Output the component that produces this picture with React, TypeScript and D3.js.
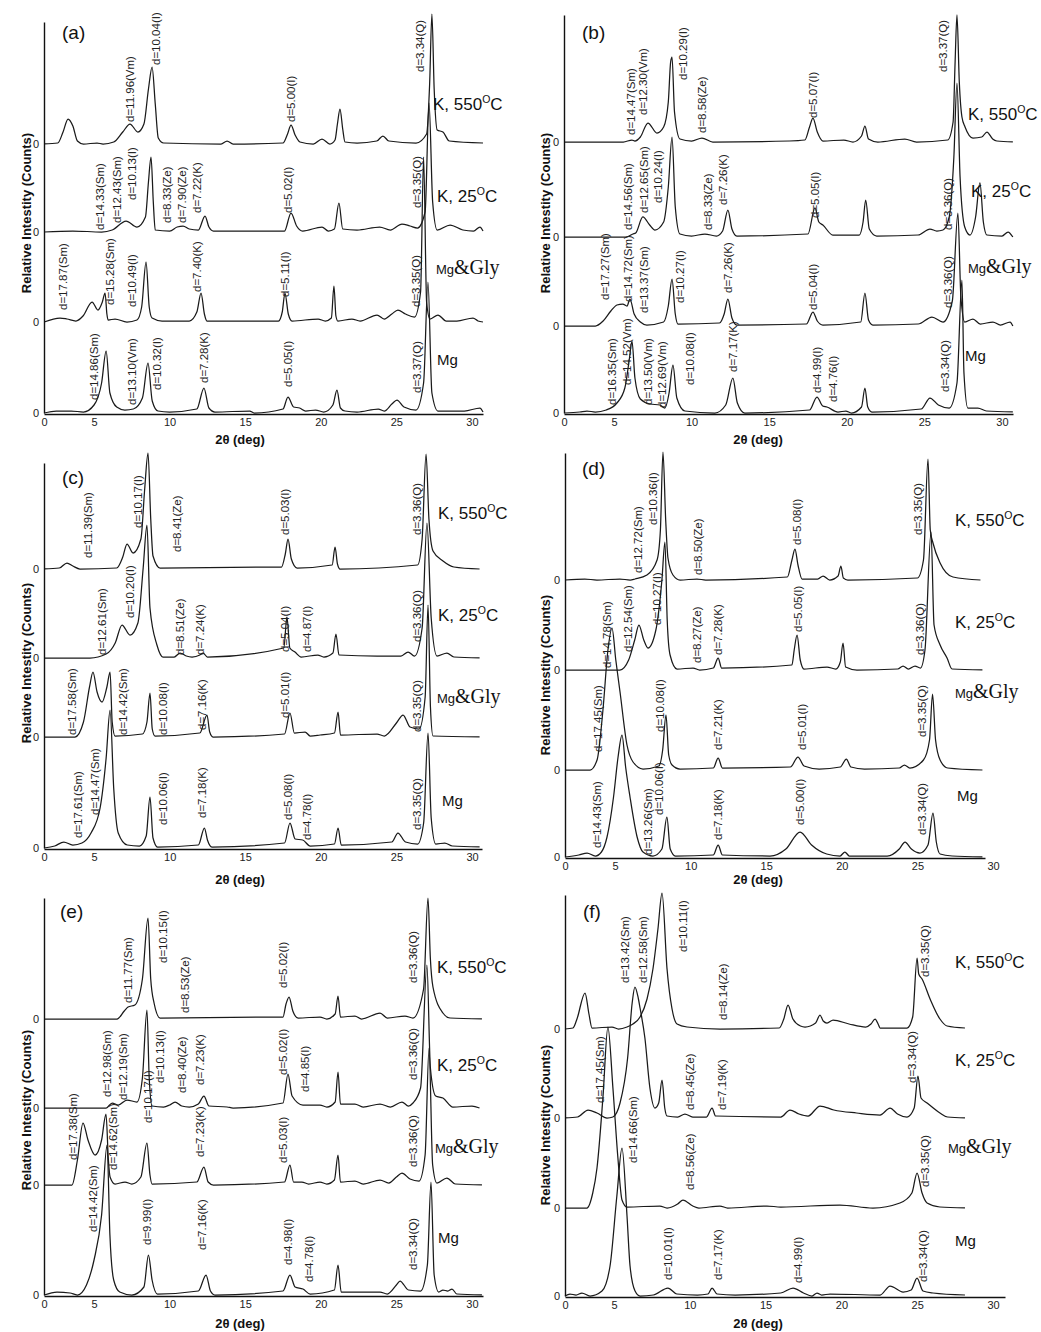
import React, { useEffect, useRef } from "react";
import * as d3 from "d3";

type Pt = [number, number];
type Lbl = [string, number, number];

const FONT = "'Liberation Sans', Arial, Helvetica, sans-serif";
const SERIF = "'Liberation Serif', 'Times New Roman', serif";

// stacking order, bottom to top
const traceNames = ["Mg", "Mg&Gly", "K, 25°C", "K, 550°C"];
const xTickValues = [5, 10, 15, 20, 25, 30];
const panelLetters = ["(a)", "(b)", "(c)", "(d)", "(e)", "(f)"];
const yTitle = "Relative Intestity (Counts)";
const xTitle = "2θ (deg)";

// ---------- (a) ----------
const aXDomain = [1.69, 30.73];
const aOffsets = [0, 91, 181, 269];
const aMg: Pt[] = [[1.7,0],[2.5,2],[3.5,2],[4.3,1],[5.0,8],[5.5,30],[5.8,62],[6.05,20],[6.5,6],[7.04,3],[7.6,4],[8.2,15],[8.57,50],[8.85,12],[9.23,2],[10.0,1],[11.8,4],[12.27,25],[12.6,5],[13.0,1],[15.3,2],[15.6,0],[17.5,4],[17.83,16],[18.2,6],[18.6,5],[19.0,2],[19.65,3],[20.2,1],[20.8,8],[21.07,23],[21.3,5],[21.6,2],[22.4,1],[23.8,4],[24.2,2],[24.7,9],[25.04,13],[25.5,6],[26.3,3],[26.8,30],[27.09,131],[27.35,20],[27.75,2],[29.5,2],[30.53,5],[30.73,1]];
const aMgGly: Pt[] = [[1.7,0],[2.75,4],[3.21,3],[3.8,1],[4.27,6],[4.87,20],[5.26,12],[5.55,20],[5.73,29],[5.85,8],[5.93,2],[6.39,3],[7.18,0],[7.84,2],[8.15,15],[8.44,60],[8.65,15],[8.84,4],[9.5,1],[11.3,1],[11.8,10],[12.08,29],[12.3,8],[12.47,1],[14.66,1],[17.2,1],[17.45,10],[17.63,29],[17.85,8],[18.1,1],[19.82,3],[20.3,1],[20.7,4],[20.87,36],[21.0,6],[21.13,1],[22.06,3],[22.6,1],[23.72,7],[24.2,3],[24.7,8],[25.1,12],[25.6,8],[26.2,5],[26.6,30],[26.8,165],[27.0,20],[27.22,3],[27.75,7],[28.3,1],[29.0,1],[30.07,4],[30.4,1],[30.73,0]];
const aK25: Pt[] = [[1.7,0],[3.6,1],[5.5,0],[6.2,2],[7.12,11],[7.84,5],[8.4,15],[8.6,50],[8.77,75],[8.92,30],[9.05,2],[10.0,1],[10.5,5],[10.89,6],[11.3,3],[11.9,2],[12.34,16],[12.6,5],[12.9,1],[17.6,1],[18.03,19],[18.4,6],[18.8,1],[20.08,5],[20.5,1],[20.9,3],[21.2,29],[21.45,3],[22.4,2],[23.9,5],[24.6,2],[25.37,8],[25.9,6],[26.4,4],[26.9,20],[27.16,129],[27.4,30],[27.7,2],[28.55,7],[29.4,2],[30.1,1],[30.53,5],[30.73,1]];
const aK550: Pt[] = [[1.7,0],[2.6,1],[2.95,12],[3.28,25],[3.6,18],[3.9,3],[4.3,0],[5.2,1],[5.6,0],[6.3,2],[6.9,12],[7.38,20],[7.9,12],[8.3,20],[8.6,55],[8.84,77],[9.05,40],[9.25,6],[9.6,1],[13.4,0],[13.8,3],[14.2,0],[17.5,1],[17.8,10],[18.03,19],[18.3,9],[18.62,2],[19.5,0],[20.08,5],[20.6,0],[20.94,4],[21.1,20],[21.27,35],[21.45,15],[21.6,2],[22.4,1],[23.7,3],[24.11,8],[24.5,3],[26.3,1],[27.0,10],[27.2,60],[27.35,130],[27.5,55],[27.7,14],[28.08,12],[28.5,3],[30.73,1]];
const aLabels: Lbl[] = [
  ["d=11.96(Vm)",7.38,291],["d=10.04(I)",9.1,348],["d=5.00(I)",18.03,291],["d=3.34(Q)",26.56,341],
  ["d=14.33(Sm)",5.4,183],["d=12.43(Sm)",6.52,190],["d=10.13(I)",7.51,213],["d=8.33(Ze)",9.83,190],["d=7.90(Ze)",10.82,190],["d=7.22(K)",11.81,200],["d=5.02(I)",17.83,200],["d=3.35(Q)",26.36,205],
  ["d=17.87(Sm)",2.95,103],["d=15.28(Sm)",6.06,108],["d=10.49(I)",7.51,106],["d=7.40(K)",11.81,121],["d=5.11(I)",17.63,116],["d=3.35(Q)",26.3,106],
  ["d=14.86(Sm)",5.0,13],["d=13.10(Vm)",7.51,8],["d=10.32(I)",9.17,23],["d=7.28(K)",12.27,30],["d=5.05(I)",17.83,26],["d=3.37(Q)",26.36,20],
];

// ---------- (b) ----------
const bXDomain = [1.78, 30.71];
const bOffsets = [0, 87, 176, 271];
const bMg: Pt[] = [[1.8,0],[2.8,1],[3.26,2],[3.8,1],[4.5,3],[5.19,10],[5.7,25],[6.0,55],[6.16,72],[6.35,35],[6.7,14],[7.32,9],[7.96,8],[8.28,5],[8.55,20],[8.8,48],[9.05,15],[9.57,2],[11.5,0],[12.2,8],[12.66,35],[12.95,10],[13.43,0],[17.6,3],[18.08,16],[18.45,7],[18.72,6],[19.43,1],[19.94,2],[20.3,0],[20.95,6],[21.17,25],[21.35,6],[21.62,1],[24.8,4],[25.36,15],[25.9,8],[26.6,5],[27.1,30],[27.42,133],[27.55,40],[27.8,5],[28.45,5],[29.0,2],[30.7,1]];
const bMgGly: Pt[] = [[1.8,0],[3.8,0],[4.3,5],[4.8,15],[5.19,21],[5.57,22],[5.84,20],[6.03,27],[6.3,12],[6.7,4],[7.12,1],[8.2,4],[8.5,20],[8.74,47],[8.95,12],[9.12,2],[11.8,3],[12.1,12],[12.34,27],[12.6,8],[12.92,1],[17.4,2],[17.82,14],[18.1,5],[18.46,1],[20.9,4],[21.17,33],[21.4,6],[21.68,1],[24.6,2],[25.49,9],[26.2,4],[26.8,25],[27.16,113],[27.35,30],[27.6,4],[28.13,7],[28.6,2],[29.42,4],[29.9,1],[30.52,4],[30.7,0]];
const bK25: Pt[] = [[1.8,0],[5.8,0],[6.22,3],[6.4,4],[6.86,20],[7.3,12],[7.64,7],[8.2,15],[8.5,50],[8.74,100],[8.95,30],[9.25,3],[10.0,1],[10.86,3],[11.6,1],[12.0,6],[12.34,27],[12.6,8],[12.92,1],[17.5,3],[17.95,29],[18.2,15],[18.46,12],[19.1,2],[20.8,2],[21.05,15],[21.22,37],[21.45,8],[21.93,1],[24.6,2],[25.36,8],[25.8,6],[26.2,7],[26.6,20],[26.9,80],[27.1,154],[27.3,60],[27.6,10],[27.94,2],[28.3,20],[28.58,54],[28.8,15],[29.03,2],[30.0,1],[30.39,5],[30.7,0]];
const bK550: Pt[] = [[1.8,0],[5.6,0],[6.16,2],[6.35,1],[6.7,5],[7.19,19],[7.77,9],[8.2,15],[8.5,40],[8.65,80],[8.74,85],[8.9,30],[9.25,3],[10.0,1],[10.67,4],[11.37,0],[16.3,1],[17.3,2],[17.6,15],[17.82,24],[18.1,10],[18.46,1],[19.81,2],[20.4,0],[20.95,6],[21.17,16],[21.4,3],[22.0,0],[23.74,3],[24.5,0],[26.5,2],[26.85,20],[26.98,80],[27.1,127],[27.25,60],[27.42,25],[27.62,15],[28.13,4],[28.7,5],[29.03,10],[29.4,3],[29.67,1],[30.7,0]];
const bLabels: Lbl[] = [
  ["d=14.47(Sm)",6.1,278],["d=12.30(Vm)",6.86,298],["d=10.29(I)",9.44,333],["d=8.58(Ze)",10.67,280],["d=5.07(I)",17.82,295],["d=3.37(Q)",26.2,341],
  ["d=14.56(Sm)",5.9,183],["d=12.65(Sm)",6.93,200],["d=10.24(I)",7.83,210],["d=8.33(Ze)",11.05,183],["d=7.26(K)",12.02,208],["d=5.05(I)",17.95,195],["d=3.36(Q)",26.52,183],
  ["d=17.27(Sm)",4.42,113],["d=14.72(Sm)",5.9,111],["d=13.37(Sm)",6.93,100],["d=10.27(I)",9.25,110],["d=7.26(K)",12.34,120],["d=5.04(I)",17.82,103],["d=3.36(Q)",26.52,105],
  ["d=16.35(Sm)",4.87,8],["d=14.52(Vm)",5.84,28],["d=13.50(Vm)",7.19,8],["d=12.69(Vm)",8.09,5],["d=10.08(I)",9.9,28],["d=7.17(K)",12.66,41],["d=4.99(I)",18.08,20],["d=4.76(I)",19.11,11],["d=3.34(Q)",26.32,21],
];

// ---------- (c) ----------
const cXDomain = [1.69, 30.66];
const cOffsets = [0, 111, 190, 279];
const cMg: Pt[] = [[1.7,0],[2.4,2],[3.0,6],[3.6,3],[4.2,5],[4.8,15],[5.4,40],[5.8,90],[6.06,138],[6.3,60],[6.6,15],[7.2,3],[8.0,2],[8.45,12],[8.7,51],[8.9,10],[9.2,1],[11.9,3],[12.3,20],[12.5,8],[12.8,1],[17.6,5],[17.96,25],[18.3,9],[18.8,8],[19.3,2],[20.9,4],[21.14,20],[21.35,3],[24.7,6],[25.1,15],[25.6,6],[26.4,4],[26.8,25],[27.09,115],[27.3,30],[27.6,4],[28.2,5],[28.7,2],[30.5,1]];
const cMgGly: Pt[] = [[1.7,0],[3.74,0],[4.3,15],[4.7,50],[4.93,65],[5.2,45],[5.53,35],[5.85,50],[6.06,65],[6.2,15],[6.39,1],[8.2,3],[8.5,15],[8.7,44],[8.85,8],[9.03,1],[12.0,4],[12.47,22],[12.65,5],[12.87,0],[17.6,3],[17.96,24],[18.25,4],[18.96,5],[19.3,1],[19.95,2],[20.9,4],[21.14,25],[21.3,2],[23.72,3],[24.2,1],[25.0,14],[25.44,22],[25.9,10],[26.5,8],[26.9,40],[27.09,132],[27.25,30],[27.42,1],[30.5,0]];
const cK25: Pt[] = [[1.7,0],[4.73,0],[5.8,4],[6.4,15],[6.85,33],[7.38,23],[7.9,35],[8.25,90],[8.5,133],[8.7,50],[9.16,13],[9.56,1],[10.3,1],[10.69,5],[11.1,2],[11.48,1],[12.0,3],[12.21,5],[12.5,1],[17.55,10],[17.76,41],[17.95,10],[18.29,6],[18.7,1],[19.8,3],[20.2,1],[20.8,5],[21.0,24],[21.2,3],[23.72,2],[25.3,2],[25.77,6],[26.2,2],[26.7,30],[27.02,135],[27.3,40],[27.68,2],[28.34,5],[28.8,1],[30.5,0]];
const cK550: Pt[] = [[1.7,0],[2.7,1],[3.21,6],[3.6,3],[4.07,0],[6.5,1],[6.9,12],[7.18,25],[7.58,16],[8.1,30],[8.35,80],[8.57,116],[8.75,50],[8.9,13],[9.37,1],[17.4,2],[17.65,15],[17.83,30],[18.05,10],[18.43,1],[20.75,4],[20.94,22],[21.1,5],[21.27,0],[26.4,4],[26.7,30],[26.96,115],[27.15,50],[27.42,18],[28.08,8],[28.8,2],[30.5,0]];
const cLabels: Lbl[] = [
  ["d=11.39(Sm)",4.6,290],["d=10.17(I)",7.91,320],["d=8.41(Ze)",10.49,296],["d=5.03(I)",17.63,313],["d=3.36(Q)",26.36,313],
  ["d=12.61(Sm)",5.53,193],["d=10.20(I)",7.38,230],["d=8.51(Ze)",10.69,193],["d=7.24(K)",12.01,193],["d=5.04(I)",17.63,196],["d=4.87(I)",19.09,196],["d=3.36(Q)",26.36,206],
  ["d=17.58(Sm)",3.54,113],["d=14.42(Sm)",6.92,113],["d=10.08(I)",9.56,113],["d=7.16(K)",12.14,118],["d=5.01(I)",17.63,130],["d=3.35(Q)",26.36,116],
  ["d=17.61(Sm)",3.94,10],["d=14.47(Sm)",5.07,33],["d=10.06(I)",9.56,23],["d=7.18(K)",12.14,30],["d=5.08(I)",17.83,28],["d=4.78(I)",19.09,8],["d=3.35(Q)",26.36,18],
];

// ---------- (d) ----------
const dXDomain = [1.69, 29.47];
const dOffsets = [0, 87, 187, 277];
const dMg: Pt[] = [[1.7,0],[2.6,2],[3.15,4],[3.7,1],[4.1,5],[4.47,20],[4.9,60],[5.2,100],[5.46,122],[5.7,90],[5.99,60],[6.46,20],[6.85,5],[7.51,1],[8.1,8],[8.43,40],[8.65,8],[9.0,1],[11.5,2],[11.82,12],[12.1,2],[15.25,1],[16.3,8],[17.24,25],[18.0,12],[19.0,3],[19.88,1],[20.2,5],[20.5,1],[23.0,1],[23.8,8],[24.18,15],[24.6,8],[25.17,4],[25.7,12],[26.03,44],[26.25,15],[26.5,3],[27.3,1],[29.3,0]];
const dMgGly: Pt[] = [[1.7,0],[3.35,0],[3.81,10],[4.2,60],[4.53,120],[4.8,142],[5.05,110],[5.33,78],[5.79,25],[6.19,8],[6.85,1],[7.9,4],[8.15,20],[8.37,55],[8.55,15],[8.77,5],[9.3,1],[11.5,2],[11.82,12],[12.1,2],[16.6,3],[17.1,13],[17.5,4],[18.5,1],[19.9,3],[20.3,11],[20.6,3],[21.5,1],[23.8,2],[24.14,5],[24.5,2],[25.4,10],[25.8,30],[26.0,76],[26.2,30],[26.5,10],[27.0,2],[29.3,0]];
const dK25: Pt[] = [[1.7,0],[5.32,0],[5.9,10],[6.3,30],[6.58,45],[6.9,30],[7.18,22],[7.7,40],[8.1,90],[8.3,128],[8.45,50],[8.64,15],[9.1,1],[10.16,2],[10.6,0],[11.5,2],[11.82,12],[12.05,2],[16.7,5],[16.85,20],[17.04,35],[17.25,10],[17.5,1],[19.02,3],[19.6,1],[19.9,8],[20.08,27],[20.25,3],[21.0,0],[23.7,1],[24.05,4],[24.4,1],[24.84,4],[25.2,2],[25.5,20],[25.9,138],[26.1,45],[26.5,25],[26.96,12],[27.29,1],[29.3,0]];
const dK550: Pt[] = [[1.7,0],[3.0,1],[3.8,0],[5.32,1],[6.0,0],[6.32,1],[7.11,5],[7.78,20],[8.0,50],[8.17,128],[8.35,60],[8.5,22],[8.83,5],[9.3,0],[10.42,1],[11.0,0],[16.4,3],[16.7,20],[16.9,31],[17.1,15],[17.37,1],[18.4,1],[18.76,4],[19.2,0],[19.75,4],[19.94,14],[20.1,2],[20.4,0],[25.0,2],[25.4,20],[25.7,121],[25.85,50],[26.03,37],[26.5,17],[27.35,3],[29.17,0]];
const dLabels: Lbl[] = [
  ["d=12.72(Sm)",6.52,284],["d=10.36(I)",7.51,332],["d=8.50(Ze)",10.49,282],["d=5.08(I)",17.04,312],["d=3.35(Q)",25.04,322],
  ["d=14.78(Sm)",4.47,189],["d=12.54(Sm)",5.86,205],["d=10.27(I)",7.78,232],["d=8.27(Ze)",10.42,194],["d=7.28(K)",11.81,202],["d=5.05(I)",17.1,225],["d=3.36(Q)",25.17,202],
  ["d=17.45(Sm)",3.88,105],["d=10.08(I)",7.98,125],["d=7.21(K)",11.81,107],["d=5.01(I)",17.37,107],["d=3.35(Q)",25.3,120],
  ["d=14.43(Sm)",3.81,9],["d=13.26(Sm)",7.18,2],["d=10.06(I)",7.91,42],["d=7.18(K)",11.81,17],["d=5.00(I)",17.24,32],["d=3.34(Q)",25.3,22],
];

// ---------- (e) ----------
const eXDomain = [1.69, 30.73];
const eOffsets = [0, 110, 187, 276];
const eMg: Pt[] = [[1.7,0],[2.55,3],[3.41,2],[3.9,0],[4.5,10],[5.0,35],[5.5,80],[5.86,150],[6.05,60],[6.3,15],[6.7,3],[7.5,0],[8.3,8],[8.6,40],[8.84,15],[9.2,1],[11.9,4],[12.41,20],[12.7,4],[13.0,0],[17.5,4],[17.96,20],[18.3,8],[18.82,6],[19.3,1],[20.9,5],[21.14,30],[21.35,3],[23.92,3],[24.4,1],[25.0,10],[25.24,14],[25.8,5],[26.6,4],[27.05,30],[27.29,113],[27.5,20],[27.8,3],[28.08,5],[28.4,4],[28.68,6],[29.0,1],[30.66,0]];
const eMgGly: Pt[] = [[1.7,0],[3.54,0],[3.9,25],[4.27,62],[4.6,45],[5.07,30],[5.5,45],[5.79,71],[5.95,25],[6.06,8],[6.39,1],[7.05,3],[7.5,1],[8.1,8],[8.5,42],[8.7,10],[8.84,1],[11.8,3],[12.27,18],[12.55,3],[12.9,0],[17.6,3],[17.96,20],[18.2,3],[18.75,3],[19.2,1],[19.95,3],[20.4,1],[20.9,5],[21.14,30],[21.3,3],[22.26,4],[22.8,1],[23.92,5],[24.5,2],[25.0,8],[25.37,12],[25.9,6],[26.5,4],[26.9,30],[27.16,137],[27.4,20],[27.68,2],[28.34,7],[28.9,1],[30.66,0]];
const eK25: Pt[] = [[1.7,0],[5.8,0],[6.2,5],[6.6,3],[7.18,8],[7.84,6],[8.2,30],[8.5,98],[8.65,30],[8.84,2],[9.6,1],[10.0,3],[10.36,6],[10.8,2],[11.3,1],[11.9,4],[12.27,12],[12.6,2],[13.8,1],[14.2,0],[17.5,5],[17.83,34],[18.1,12],[18.82,3],[19.95,3],[20.4,1],[20.95,6],[21.14,36],[21.3,4],[22.26,4],[22.8,1],[23.92,4],[24.6,1],[25.37,6],[25.8,2],[26.1,5],[26.6,20],[27.02,143],[27.25,40],[27.6,12],[28.08,10],[28.74,1],[30.0,2],[30.5,0]];
const eK550: Pt[] = [[1.7,0],[6.52,0],[7.0,8],[7.25,12],[7.7,14],[8.2,40],[8.57,101],[8.75,40],[8.97,16],[9.37,1],[17.5,2],[17.7,15],[17.9,22],[18.15,8],[18.5,1],[19.95,2],[20.4,0],[20.95,5],[21.14,23],[21.3,2],[22.26,3],[22.7,0],[23.92,6],[24.4,1],[25.57,3],[26.1,1],[26.8,30],[27.09,121],[27.25,60],[27.42,32],[28.08,6],[28.55,1],[30.66,0]];
const eLabels: Lbl[] = [
  ["d=11.77(Sm)",7.25,292],["d=10.15(I)",9.56,332],["d=8.53(Ze)",11.02,282],["d=5.02(I)",17.5,307],["d=3.36(Q)",26.1,312],
  ["d=12.98(Sm)",5.86,198],["d=12.19(Sm)",6.92,195],["d=10.13(I)",9.37,212],["d=8.40(Ze)",10.82,202],["d=7.23(K)",12.01,210],["d=5.02(I)",17.5,220],["d=4.85(I)",18.95,203],["d=3.36(Q)",26.1,215],
  ["d=17.38(Sm)",3.61,135],["d=14.62(Sm)",6.26,125],["d=10.17(I)",8.57,172],["d=7.23(K)",12.01,138],["d=5.03(I)",17.5,132],["d=3.36(Q)",26.1,128],
  ["d=14.42(Sm)",4.93,63],["d=9.99(I)",8.5,50],["d=7.16(K)",12.14,45],["d=4.98(I)",17.83,30],["d=4.78(I)",19.22,13],["d=3.34(Q)",26.1,25],
];

// ---------- (f) ----------
const fXDomain = [1.77, 30.79];
const fOffsets = [0, 88, 178, 267];
const fMg: Pt[] = [[1.77,0],[2.1,2],[2.5,1],[2.89,3],[3.42,0],[4.21,5],[4.74,30],[5.19,100],[5.53,148],[5.86,80],[6.06,30],[6.39,5],[6.72,0],[7.6,1],[8.56,8],[9.15,2],[10.5,1],[11.2,2],[11.47,8],[11.8,2],[13.0,1],[16.0,3],[16.81,8],[17.5,3],[18.06,0],[18.39,3],[18.7,1],[19.25,2],[22.55,1],[23.21,10],[24.07,4],[24.6,6],[24.99,18],[25.38,5],[26.04,3],[28.15,1]];
const fMgGly: Pt[] = [[1.77,0],[3.22,0],[3.6,15],[3.88,40],[4.27,110],[4.6,181],[4.93,120],[5.26,50],[5.53,8],[5.86,1],[8.03,2],[8.5,0],[9.2,4],[9.55,8],[10.2,2],[10.6,0],[11.99,2],[12.5,0],[15.09,2],[16.0,1],[19.9,3],[22.08,0],[23.86,5],[24.65,15],[24.99,35],[25.32,15],[25.65,5],[26.5,1],[28.15,0]];
const fK25: Pt[] = [[1.77,0],[2.6,1],[3.29,8],[3.88,5],[4.54,0],[4.93,1],[5.4,15],[5.9,60],[6.2,115],[6.38,131],[6.6,120],[6.72,110],[7.04,80],[7.37,30],[7.7,10],[7.95,15],[8.17,38],[8.35,10],[8.5,2],[9.2,1],[9.68,4],[10.2,1],[11.1,1],[11.47,10],[11.7,2],[16.0,1],[16.61,8],[17.2,4],[17.8,2],[18.59,12],[19.5,8],[21.0,5],[22.55,3],[23.21,10],[23.7,4],[24.33,1],[24.8,10],[25.05,42],[25.25,20],[25.65,15],[26.5,5],[27.0,1],[28.15,0]];
const fK550: Pt[] = [[1.77,0],[2.3,1],[2.56,10],[3.09,36],[3.35,15],[3.55,1],[4.87,2],[5.3,0],[5.86,2],[6.25,5],[6.72,12],[7.18,30],[7.57,60],[7.9,100],[8.17,136],[8.5,60],[8.83,20],[9.16,5],[9.82,2],[12.0,0],[15.9,1],[16.2,10],[16.48,24],[16.8,10],[17.3,3],[17.6,2],[18.3,6],[18.59,14],[18.8,8],[19.05,6],[19.45,9],[20.5,5],[21.6,2],[21.95,5],[22.22,10],[22.45,4],[22.55,1],[24.33,1],[24.7,12],[24.99,71],[25.1,55],[25.32,50],[25.85,30],[26.5,10],[26.97,3],[28.15,1]];
const fLabels: Lbl[] = [
  ["d=13.42(Sm)",5.73,313],["d=12.58(Sm)",6.91,313],["d=10.11(I)",9.55,344],["d=8.14(Ze)",12.19,276],["d=3.35(Q)",25.52,319],
  ["d=17.45(Sm)",4.08,193],["d=8.45(Ze)",10.01,186],["d=7.19(K)",12.12,186],["d=3.34(Q)",24.66,213],
  ["d=14.66(Sm)",6.24,133],["d=8.56(Ze)",10.01,106],["d=3.35(Q)",25.52,109],
  ["d=10.01(I)",8.56,16],["d=7.17(K)",11.86,16],["d=4.99(I)",17.13,13],["d=3.34(Q)",25.39,14],
];

const panelData = [
  { traces: [aMg, aMgGly, aK25, aK550], offsets: aOffsets, labels: aLabels, xDomain: aXDomain },
  { traces: [bMg, bMgGly, bK25, bK550], offsets: bOffsets, labels: bLabels, xDomain: bXDomain },
  { traces: [cMg, cMgGly, cK25, cK550], offsets: cOffsets, labels: cLabels, xDomain: cXDomain },
  { traces: [dMg, dMgGly, dK25, dK550], offsets: dOffsets, labels: dLabels, xDomain: dXDomain },
  { traces: [eMg, eMgGly, eK25, eK550], offsets: eOffsets, labels: eLabels, xDomain: eXDomain },
  { traces: [fMg, fMgGly, fK25, fK550], offsets: fOffsets, labels: fLabels, xDomain: fXDomain },
];

// pixel layout of each panel (names listed Mg, Mg&Gly, K25, K550)
const layout = [
  { left: 44, right: 483, base: 413, top: 22, letter: [62, 39], yT: [26, 213], xT: [240, 444],
    names: [[437, 365], [436, 274], [437, 202], [433, 110]] },
  { left: 564, right: 1013, base: 413, top: 15, letter: [582, 39], yT: [545, 213], xT: [758, 444],
    names: [[965, 361], [968, 273], [971, 197], [968, 120]] },
  { left: 44, right: 482, base: 848, top: 463, letter: [62, 484], yT: [26, 663], xT: [240, 884],
    names: [[442, 806], [437, 703], [438, 621], [438, 519]] },
  { left: 565, right: 985, base: 857, top: 453, letter: [582, 475], yT: [545, 675], xT: [758, 884],
    names: [[957, 801], [955, 698], [955, 628], [955, 526]] },
  { left: 44, right: 483, base: 1295, top: 898, letter: [60, 918], yT: [26, 1110], xT: [240, 1328],
    names: [[438, 1243], [435, 1153], [437, 1071], [437, 973]] },
  { left: 565, right: 1005, base: 1296, top: 895, letter: [583, 918], yT: [545, 1125], xT: [758, 1328],
    names: [[955, 1246], [948, 1153], [955, 1066], [955, 968]] },
];

function addName(g: any, name: string, x: number, y: number) {
  const t = g.append("text").attr("x", x).attr("y", y).attr("fill", "#111").attr("font-family", FONT);
  if (name.includes("°C")) {
    const main = name.split("°C")[0];
    t.append("tspan").attr("font-size", 17).text(main);
    t.append("tspan").attr("font-size", 10.5).attr("dy", -7).text("O");
    t.append("tspan").attr("font-size", 17).attr("dy", 7).text("C");
  } else if (name.includes("&")) {
    const parts = name.split("&");
    t.append("tspan").attr("font-size", 13).text(parts[0]);
    t.append("tspan").attr("font-family", SERIF).attr("font-size", 20).text("&" + parts[1]);
  } else {
    t.append("tspan").attr("font-size", 15).text(name);
  }
}

function drawPanel(svg: any, p: any, L: any, idx: number) {
  const x = d3.scaleLinear().domain(p.xDomain).range([L.left, L.right]);
  const y = d3.scaleLinear().domain([0, L.base - L.top]).range([L.base, L.top]);
  const g = svg.append("g");

  p.traces.forEach((tr: Pt[], i: number) => {
    const off = p.offsets[i];
    const line = d3
      .line<Pt>()
      .x((d) => x(d[0]))
      .y((d) => y(d[1] + off))
      .curve(d3.curveMonotoneX);
    g.append("path")
      .datum(tr)
      .attr("d", line)
      .attr("fill", "none")
      .attr("stroke", "#1a1a1a")
      .attr("stroke-width", 1.25)
      .attr("stroke-linejoin", "round");
  });

  const xAxis = d3
    .axisBottom(x)
    .tickValues([p.xDomain[0], ...xTickValues])
    .tickFormat((d: any, i: number) => (i === 0 ? "0" : String(d)))
    .tickSize(0)
    .tickSizeOuter(0)
    .tickPadding(4);
  const gx = g.append("g").attr("transform", `translate(0,${L.base + 1})`).call(xAxis);
  gx.attr("font-family", FONT).attr("font-size", 11);
  gx.selectAll("text").attr("fill", "#222");
  gx.select(".domain").attr("stroke", "#111").attr("stroke-width", 1.6);

  const yAxis = d3
    .axisLeft(y)
    .tickValues(p.offsets)
    .tickFormat(() => "0")
    .tickSize(0)
    .tickSizeOuter(0)
    .tickPadding(5);
  const gy = g.append("g").attr("transform", `translate(${L.left},0)`).call(yAxis);
  gy.attr("font-family", FONT).attr("font-size", 11);
  gy.selectAll("text").attr("fill", "#222");
  gy.select(".domain").attr("stroke", "#111").attr("stroke-width", 1.4);

  g.selectAll("text.peak")
    .data(p.labels)
    .join("text")
    .attr("class", "peak")
    .attr("transform", (d: Lbl) => `translate(${x(d[1])},${y(d[2])}) rotate(-90)`)
    .attr("dy", "0.35em")
    .attr("font-family", FONT)
    .attr("font-size", 11.5)
    .attr("fill", "#222")
    .text((d: Lbl) => d[0]);

  traceNames.forEach((nm, i) => addName(g, nm, L.names[i][0], L.names[i][1]));

  g.append("text")
    .attr("x", L.letter[0])
    .attr("y", L.letter[1])
    .attr("font-family", FONT)
    .attr("font-size", 19)
    .attr("fill", "#111")
    .text(panelLetters[idx]);

  g.append("text")
    .attr("transform", `translate(${L.yT[0]},${L.yT[1]}) rotate(-90)`)
    .attr("text-anchor", "middle")
    .attr("dy", "0.35em")
    .attr("font-family", FONT)
    .attr("font-weight", "bold")
    .attr("font-size", 13)
    .attr("fill", "#111")
    .text(yTitle);

  g.append("text")
    .attr("x", L.xT[0])
    .attr("y", L.xT[1])
    .attr("text-anchor", "middle")
    .attr("font-family", FONT)
    .attr("font-weight", "bold")
    .attr("font-size", 13)
    .attr("fill", "#111")
    .text(xTitle);
}

export default function App() {
  const ref = useRef<SVGSVGElement>(null);
  useEffect(() => {
    const svg = d3.select(ref.current);
    svg.selectAll("*").remove();
    panelData.forEach((p, i) => drawPanel(svg, p, layout[i], i));
  }, []);
  return (
    <svg
      ref={ref}
      width={1041}
      height={1332}
      style={{ position: "absolute", left: 0, top: 0, background: "#fff", display: "block" }}
    />
  );
}
